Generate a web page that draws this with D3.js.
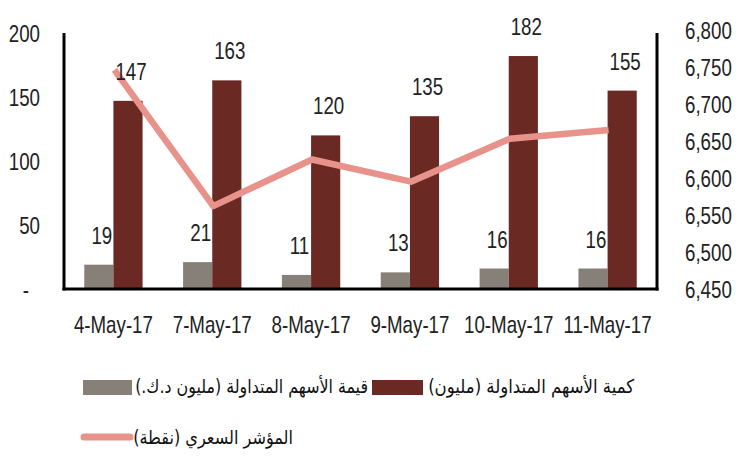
<!DOCTYPE html>
<html><head><meta charset="utf-8">
<script src="https://cdn.jsdelivr.net/npm/d3@7/dist/d3.min.js"></script>
<style>
html,body{margin:0;padding:0;background:#fff;}
svg{display:block;}
.num{font-family:"Liberation Sans","Arial",sans-serif;font-size:24px;fill:#222;}
.leg{font-family:"DejaVu Sans","Noto Sans",sans-serif;font-size:19px;fill:#111;}
</style></head>
<body>
<svg id="chart" width="746" height="458"></svg>
<script>
const categories = ["4-May-17","7-May-17","8-May-17","9-May-17","10-May-17","11-May-17"];
const valueKD = [19, 21, 11, 13, 16, 16];          // قيمة الأسهم المتداولة (مليون د.ك.)
const volumeShares = [147, 163, 120, 135, 182, 155]; // كمية الأسهم المتداولة (مليون)
const indexPoints = [6746, 6562, 6625, 6595, 6653, 6665]; // المؤشر السعري (نقطة)
const leftTicks = [0, 50, 100, 150, 200];
const rightTicks = [6450, 6500, 6550, 6600, 6650, 6700, 6750, 6800];
const legendLabels = ["قيمة الأسهم المتداولة (مليون د.ك.)", "كمية الأسهم المتداولة (مليون)", "المؤشر السعري (نقطة)"];

const colGray = "#878079", colRed = "#6b2924", colLine = "#e8928c";
const NARROW = 0.78;

const svg = d3.select("#chart");
const L = 64, R = 657, T = 33, B = 289;

const x = d3.scaleBand().domain(categories).range([L, R]).paddingInner(0.41).paddingOuter(0.205);
const xs = d3.scaleBand().domain(["kd","vol"]).range([0, x.bandwidth()]);
const yL = d3.scaleLinear().domain([0, 200]).range([B, T]);
const yR = d3.scaleLinear().domain([6450, 6800]).range([B, 30]);

// condensed text via horizontal scaling
function narrowText(sel, px, py, anchor, str) {
  return sel.append("text").attr("class", "num").attr("text-anchor", anchor)
    .attr("transform", `translate(${px},${py}) scale(${NARROW},1)`).attr("x", 0).attr("y", 0).text(str);
}

// bars
const g = svg.append("g");
categories.forEach((c, i) => {
  g.append("rect").attr("x", x(c) + xs("kd")).attr("y", yL(valueKD[i]))
    .attr("width", xs.bandwidth()).attr("height", yL(0) - yL(valueKD[i])).attr("fill", colGray);
  g.append("rect").attr("x", x(c) + xs("vol")).attr("y", yL(volumeShares[i]))
    .attr("width", xs.bandwidth()).attr("height", yL(0) - yL(volumeShares[i])).attr("fill", colRed);
});

// line
const line = d3.line().x((d, i) => x(categories[i]) + x.bandwidth() / 2 + 1).y(d => yR(d));
svg.append("path").datum(indexPoints).attr("d", line).attr("fill", "none")
  .attr("stroke", colLine).attr("stroke-width", 6.5).attr("stroke-linejoin", "round");

// data labels
categories.forEach((c, i) => {
  narrowText(svg, x(c) + xs("kd") + xs.bandwidth() / 2 + 3, yL(valueKD[i]) - 21, "middle", valueKD[i]);
  narrowText(svg, x(c) + xs("vol") + xs.bandwidth() / 2 + 3, yL(volumeShares[i]) - 21, "middle", volumeShares[i]);
});

// axes (ticks generated by d3 axes, then text restyled)
function restyle(gAxis, fx, fy, anchor) {
  gAxis.select(".domain").remove();
  gAxis.selectAll(".tick line").remove();
  gAxis.selectAll(".tick text").each(function(d) {
    d3.select(this).attr("class", "num").attr("font-family", null).attr("font-size", null).attr("fill", null)
      .attr("text-anchor", anchor).attr("x", 0).attr("y", 0).attr("dy", "0.35em")
      .attr("transform", `translate(${fx(d)},${fy(d)}) scale(${NARROW},1)`);
  });
}
const axL = d3.axisLeft(yL).tickValues(leftTicks).tickFormat(d => d === 0 ? "-" : d3.format(",")(d));
const gL = svg.append("g").attr("transform", `translate(${L},0)`).call(axL);
restyle(gL, d => d === 0 ? -35 : -24, () => 0, "end");

const axR = d3.axisRight(yR).tickValues(rightTicks).tickFormat(d3.format(","));
const gR = svg.append("g").attr("transform", `translate(${R},0)`).call(axR);
restyle(gR, () => 28, () => 0, "start");

const axB = d3.axisBottom(x);
const gB = svg.append("g").attr("transform", `translate(0,${B})`).call(axB);
restyle(gB, () => 0, () => 36, "middle");

// axis lines
svg.append("line").attr("x1", L).attr("x2", L).attr("y1", T).attr("y2", B + 1.5).attr("stroke", "#000").attr("stroke-width", 3);
svg.append("line").attr("x1", R).attr("x2", R).attr("y1", T).attr("y2", B + 1.5).attr("stroke", "#000").attr("stroke-width", 3);
svg.append("line").attr("x1", L - 1.5).attr("x2", R + 1.5).attr("y1", B).attr("y2", B).attr("stroke", "#000").attr("stroke-width", 3);

// legend
const lg = svg.append("g");
function legText(txt, leftX, cy, targetW) {
  const t = lg.append("text").attr("class", "leg").attr("direction", "rtl")
    .attr("x", 0).attr("y", 0).attr("dy", "0.35em").text(txt);
  const bb = t.node().getBBox();
  const sx = targetW / bb.width;
  t.attr("transform", `translate(${leftX - bb.x * sx},${cy}) scale(${sx},1)`);
  return leftX + targetW;
}
// row 1
lg.append("rect").attr("x", 83).attr("y", 380).attr("width", 49).attr("height", 15).attr("fill", colGray);
let xe = legText(legendLabels[0], 135, 386, 233);
lg.append("rect").attr("x", xe + 4).attr("y", 380).attr("width", 51).attr("height", 15).attr("fill", colRed);
legText(legendLabels[1], xe + 60, 386, 207);
// row 2
lg.append("line").attr("x1", 84).attr("x2", 130).attr("y1", 437).attr("y2", 437)
  .attr("stroke", colLine).attr("stroke-width", 7).attr("stroke-linecap", "round");
legText(legendLabels[2], 133, 437, 160);
</script>
</body></html>
